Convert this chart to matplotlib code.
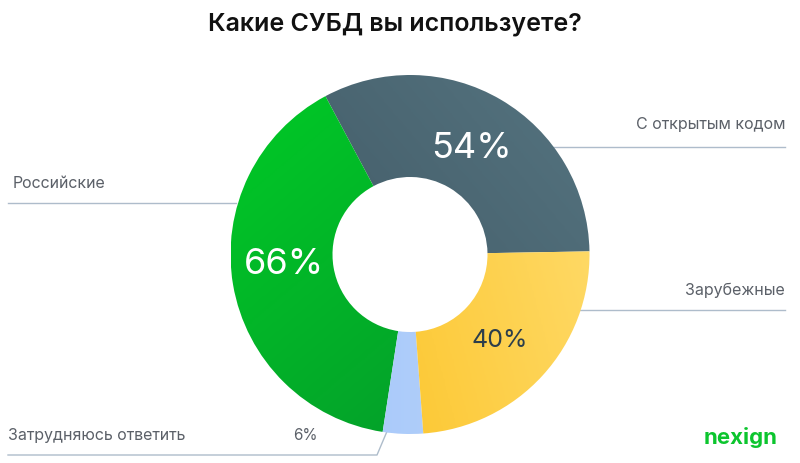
import matplotlib

matplotlib.use("Agg")
import matplotlib.pyplot as plt
import numpy as np
from matplotlib.colors import LinearSegmentedColormap

# --- data -------------------------------------------------------------------
CATEGORIES = ["С открытым кодом", "Российские", "Затрудняюсь ответить", "Зарубежные"]
VALUES = [54, 66, 6, 40]
PCT_LABELS = ["54%", "66%", "6%", "40%"]
TITLE = "Какие СУБД вы используете?"

# gradient (start, end, direction in degrees) per segment
GRADS = [("#3b515d", "#557480", 40),
         ("#00cc26", "#05942b", -50),
         ("#9fc3fb", "#bcd6f9", 0),
         ("#fbbc10", "#ffdc6e", 15)]

plt.rcParams["font.family"] = ["Inter", "DejaVu Sans"]

W, H = 800, 464
fig = plt.figure(figsize=(W / 100, H / 100), dpi=100)
ax = fig.add_axes([0, 0, 1, 1])

CX, CY = 410, H - 255.5
R_OUT, R_IN = 179.5, 77.5

wedges, _ = ax.pie(VALUES, startangle=1, counterclock=True, radius=R_OUT,
                   center=(CX, CY), wedgeprops=dict(width=R_OUT - R_IN, lw=0))

# gradient fill clipped to each wedge
gx = np.linspace(CX - R_OUT, CX + R_OUT, 200)
gy = np.linspace(CY - R_OUT, CY + R_OUT, 200)
GX, GY = np.meshgrid(gx, gy)
for w, (c0, c1, ang) in zip(wedges, GRADS):
    a = np.deg2rad(ang)
    t = (GX - CX) * np.cos(a) + (GY - CY) * np.sin(a)
    t = (t - t.min()) / (t.max() - t.min())
    cmap = LinearSegmentedColormap.from_list("g", [c0, c1])
    im = ax.imshow(t, cmap=cmap, origin="lower", interpolation="bilinear",
                   extent=(CX - R_OUT, CX + R_OUT, CY - R_OUT, CY + R_OUT), zorder=2)
    im.set_clip_path(w)
    w.set_facecolor("none")

# percentages on the ring
ax.text(471.5, H - 149, PCT_LABELS[0], color="white", fontsize=26,
        ha="center", va="center", zorder=5)
ax.text(283.5, H - 265, PCT_LABELS[1], color="white", fontsize=26,
        ha="center", va="center", zorder=5)
ax.text(500, H - 341, PCT_LABELS[3], color="#2c3e4b", fontsize=18,
        ha="center", va="center", zorder=5)
ax.text(305, H - 436, PCT_LABELS[2], color="#5b6068", fontsize=11,
        ha="center", va="center", zorder=5)

# category labels with leader lines
LINE_C = "#aebccb"
LBL_C = "#5b6068"
ax.text(13, H - 184, CATEGORIES[1], color=LBL_C, fontsize=11.5, ha="left", va="center")
ax.plot([8, 236], [H - 203.5, H - 203.5], color=LINE_C, lw=1, zorder=1)

ax.text(785, H - 125, CATEGORIES[0], color=LBL_C, fontsize=11.5, ha="right", va="center")
ax.plot([550, 785], [H - 147.5, H - 147.5], color=LINE_C, lw=1, zorder=1)

ax.text(785, H - 290, CATEGORIES[3], color=LBL_C, fontsize=11.5, ha="right", va="center")
ax.plot([578, 785], [H - 310.5, H - 310.5], color=LINE_C, lw=1, zorder=1)

ax.text(8, H - 436, CATEGORIES[2], color=LBL_C, fontsize=11.5, ha="left", va="center")
ax.plot([8, 377, 388], [H - 456, H - 456, H - 430], color=LINE_C, lw=1, zorder=1)

ax.text(395, H - 24, TITLE, color="#111111", fontsize=18, fontweight="semibold",
        ha="center", va="center")
ax.text(741, H - 438, "nexign", color="#0cc52e", fontsize=16, fontweight="bold",
        ha="center", va="center")

ax.set_xlim(0, W)
ax.set_ylim(0, H)
ax.set_aspect("auto")
ax.axis("off")

fig.savefig("out.png", dpi=100)
